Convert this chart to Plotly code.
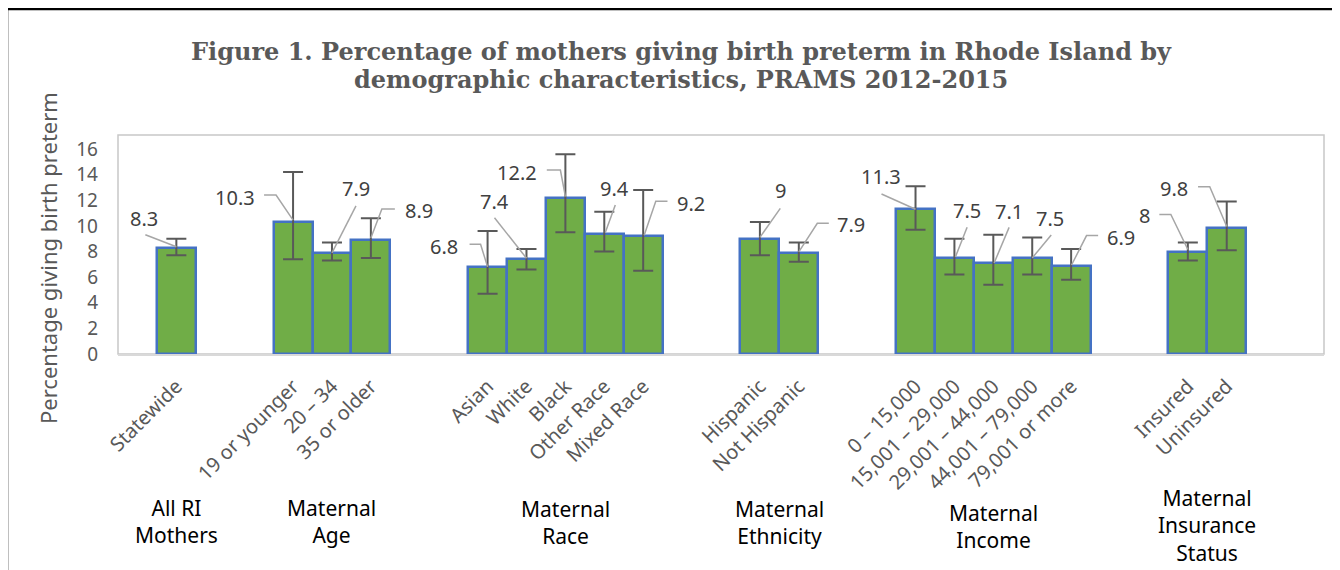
import plotly.graph_objects as go

# ---------------- data ----------------
group_names = ["All RI<br>Mothers", "Maternal<br>Age", "Maternal<br>Race",
               "Maternal<br>Ethnicity", "Maternal<br>Income", "Maternal<br>Insurance<br>Status"]

cat_all = ["Statewide"]
cat_age = ["19 or younger", "20 – 34", "35 or older"]
cat_race = ["Asian", "White", "Black", "Other Race", "Mixed Race"]
cat_eth = ["Hispanic", "Not Hispanic"]
cat_inc = ["0 – 15,000", "15,001 – 29,000", "29,001 – 44,000", "44,001 – 79,000", "79,001 or more"]
cat_ins = ["Insured", "Uninsured"]

val_all = [8.3]
val_age = [10.3, 7.9, 8.9]
val_race = [6.8, 7.4, 12.2, 9.4, 9.2]
val_eth = [9, 7.9]
val_inc = [11.3, 7.5, 7.1, 7.5, 6.9]
val_ins = [8, 9.8]

# confidence limits
low_all = [7.7]
low_age = [7.4, 7.3, 7.5]
low_race = [4.7, 6.6, 9.5, 8.0, 6.5]
low_eth = [7.7, 7.2]
low_inc = [9.7, 6.2, 5.4, 6.2, 5.8]
low_ins = [7.3, 8.1]

up_all = [9.0]
up_age = [14.2, 8.7, 10.6]
up_race = [9.6, 8.2, 15.6, 11.1, 12.8]
up_eth = [10.3, 8.7]
up_inc = [13.1, 9.0, 9.3, 9.1, 8.2]
up_ins = [8.7, 11.9]

y_ticks = [0, 2, 4, 6, 8, 10, 12, 14, 16]

title_lines = ["Figure 1. Percentage of mothers giving birth preterm in Rhode Island by",
               "demographic characteristics, PRAMS 2012-2015"]
y_title = "Percentage giving birth preterm"

groups_cat = [cat_all, cat_age, cat_race, cat_eth, cat_inc, cat_ins]
groups_val = [val_all, val_age, val_race, val_eth, val_inc, val_ins]
groups_low = [low_all, low_age, low_race, low_eth, low_inc, low_ins]
groups_up = [up_all, up_age, up_race, up_eth, up_inc, up_ins]

# ---------------- layout helpers (positions only) ----------------
# label offsets in pixels (dx, dy up) relative to top-centre of bar, and leader paths
label_off = [(-32, 29), (-58, 25), (24, 64), (48, 29), (-44, 20), (-32, 58), (-48, 25),
             (10.5, 44.6), (48, 33), (21, 48), (52.5, 28.5), (-35, 33), (12.7, 47),
             (15.5, 52), (18, 39), (50, 28), (-43, 36), (-52.6, 39.5)]
leader_pts = [
    [(-31, 13), (0, 1)],
    [(-29, 27), (-17, 27), (0, 2)],
    [(24, 47), (0, 0)],
    [(24, 31), (11, 31), (0, 2)],
    [(-18, 22.6), (-7, 22.6), (0, 0)],
    [(-32, 41.5), (0, 1)],
    [(-18.6, 27.7), (-5, 27.7), (0, 1)],
    [(11, 28.6), (1, 1)],
    [(24.3, 35), (12.6, 35), (1, 1)],
    [(20.4, 30.4), (0, 1.4)],
    [(30, 29.5), (18.5, 29.5), (0, 1)],
    [(-34, 15.2), (0, 0)],
    [(12.7, 30.6), (1, 1)],
    [(15.8, 35.7), (0.8, 0)],
    [(19, 23), (0, 0)],
    [(27, 30), (15.4, 30), (0.4, 0.6)],
    [(-28.5, 37), (-17, 37), (0, 2)],
    [(-28.7, 41.8), (-17, 41.8), (0, 2)],
]

xs, cats, vals, lows, ups, gcenters = [], [], [], [], [], []
pos = 1
for gc, gv, gl, gu in zip(groups_cat, groups_val, groups_low, groups_up):
    start = pos
    for c, v, lo, hi in zip(gc, gv, gl, gu):
        xs.append(pos); cats.append(c); vals.append(v); lows.append(lo); ups.append(hi)
        pos += 1
    gcenters.append((start + pos - 1) / 2)
    pos += 2
x_max = pos - 1  # one empty slot at the end

OFF = 8  # page body margin
W, H = 1340 - OFF, 570 - OFF
L, T = 118 - OFF, 135 - OFF
PW, PH = 1206, 219
R = W - L - PW
B = H - T - PH


def py(yref):  # reference pixel y -> paper
    return (T + PH - (yref - OFF)) / PH


def px(xref):
    return (xref - OFF - L) / PW


fig = go.Figure()
fig.add_trace(go.Bar(
    x=xs, y=vals, width=1.0,
    marker=dict(color="#70AD47", line=dict(color="#4472C4", width=2.5)),
    error_y=dict(type="data", symmetric=False,
                 array=[u - v for u, v in zip(ups, vals)],
                 arrayminus=[v - l for v, l in zip(vals, lows)],
                 color="#595959", thickness=2, width=10),
    hoverinfo="skip",
))

annotations = []
shapes = []
for x, v, (dx, dy), pts in zip(xs, vals, label_off, leader_pts):
    annotations.append(dict(x=x, y=v, xref="x", yref="y", text=f"{v:g}", showarrow=False,
                            xshift=dx, yshift=dy, xanchor="center", yanchor="middle",
                            font=dict(family="Noto Sans", size=20, color="#404040")))
    path = "M " + " L ".join(f"{a},{b}" for a, b in pts)
    shapes.append(dict(type="path", xref="x", yref="y", xsizemode="pixel", ysizemode="pixel",
                       xanchor=x, yanchor=v, path=path,
                       line=dict(color="#A6A6A6", width=1.5)))

group_y = [521.6, 521, 522, 522.5, 526, 525]
for gx, gname, gy in zip(gcenters, group_names, group_y):
    annotations.append(dict(x=gx, y=py(gy), xref="x", yref="paper", text=gname, showarrow=False,
                            xanchor="center", yanchor="middle", align="center",
                            font=dict(family="Noto Sans", size=21, color="#000000")))

# title (two lines)
for line, ty in zip(title_lines, [51, 79]):
    annotations.append(dict(x=px(681), y=py(ty), xref="paper", yref="paper", text=line,
                            showarrow=False, xanchor="center", yanchor="middle",
                            font=dict(family="DejaVu Serif", size=24, color="#595959", weight="bold")))
# y axis title
annotations.append(dict(x=px(48), y=py(258), xref="paper", yref="paper",
                        text=y_title, textangle=-90, showarrow=False,
                        xanchor="center", yanchor="middle",
                        font=dict(family="Noto Sans", size=22, color="#595959")))

# plot area border
shapes.append(dict(type="rect", xref="paper", yref="paper", x0=0, x1=1, y0=0, y1=1,
                   line=dict(color="#C8C8C8", width=1.5), layer="below"))
# outer black frame (left and top)
shapes.append(dict(type="line", xref="paper", yref="paper", x0=px(7), x1=px(7), y0=py(9), y1=py(620),
                   line=dict(color="#000000", width=2.5)))
shapes.append(dict(type="line", xref="paper", yref="paper", x0=px(6), x1=px(1380), y0=py(9), y1=py(9),
                   line=dict(color="#000000", width=2.5)))

fig.update_layout(
    width=W, height=H,
    margin=dict(l=L, r=R, t=T, b=B, pad=0),
    paper_bgcolor="white", plot_bgcolor="white",
    showlegend=False,
    bargap=0,
    annotations=annotations,
    shapes=shapes,
    xaxis=dict(range=[-0.5, x_max + 0.5], tickmode="array", tickvals=xs, ticktext=cats,
               tickangle=-45, tickfont=dict(family="Noto Sans", size=20, color="#595959"),
               showgrid=False, zeroline=False, showline=True, linecolor="#D9D9D9", linewidth=1.5,
               ticks="", ticklabelstandoff=11, fixedrange=True),
    yaxis=dict(range=[0, PH / 12.81], tickmode="array", tickvals=y_ticks,
               tickfont=dict(family="Noto Sans", size=19, color="#595959"),
               showgrid=False, zeroline=False, showline=False, ticks="",
               ticklabelstandoff=19, fixedrange=True),
)

fig.write_html("out.html")
